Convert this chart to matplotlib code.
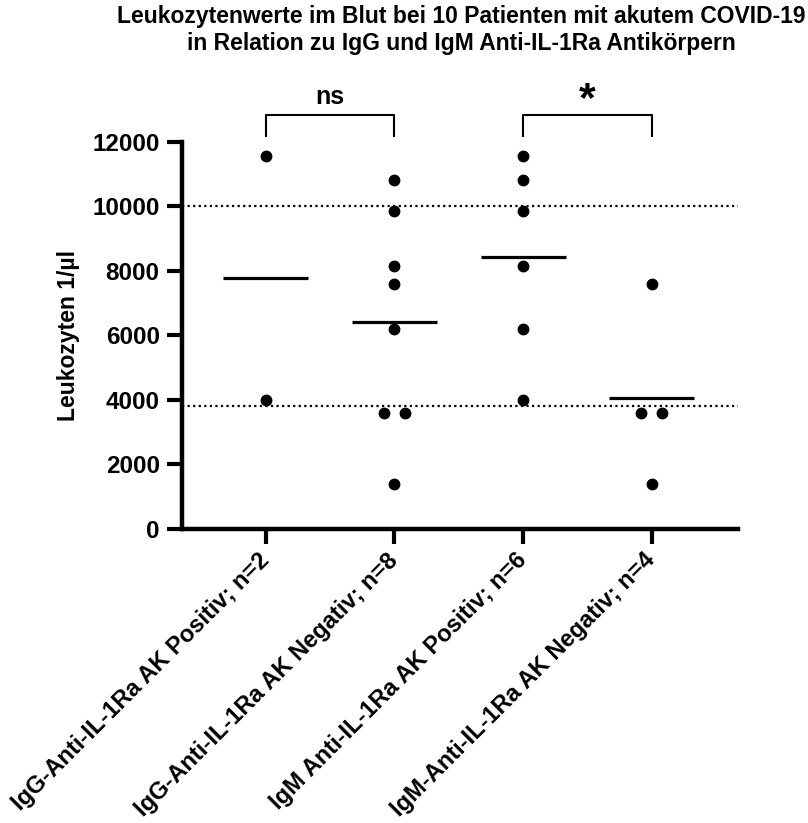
import numpy as np
import matplotlib
matplotlib.use("Agg")
import matplotlib.pyplot as plt

plt.rcParams['font.family'] = ['Liberation Sans', 'DejaVu Sans']
plt.rcParams['font.weight'] = 'bold'

# data (Leukozyten 1/ul per Patient)
groups = ["IgG-Anti-IL-1Ra AK Positiv; n=2",
          "IgG-Anti-IL-1Ra AK Negativ; n=8",
          "IgM Anti-IL-1Ra AK Positiv; n=6",
          "IgM-Anti-IL-1Ra AK Negativ; n=4"]
igg_pos = [11550, 4000]
igg_neg = [10800, 9850, 8150, 7600, 6200, 3600, 3600, 1400]
igm_pos = [11550, 10800, 9850, 8150, 6200, 4000]
igm_neg = [7600, 3600, 3600, 1400]
ref_lines = [10000, 3800]
comparisons = [(0, 1, "ns"), (2, 3, "*")]

series = [igg_pos, igg_neg, igm_pos, igm_neg]

fig = plt.figure(figsize=(8.08, 8.23), dpi=100)
ax = fig.add_axes([0.2252, 0.3572, 0.6881, 0.4706])

for i, vals in enumerate(series):
    vals = np.array(vals, dtype=float)
    xs = np.full(len(vals), float(i))
    # spread identical values side by side
    for v in np.unique(vals):
        idx = np.where(vals == v)[0]
        if len(idx) > 1:
            xs[idx] = i + (np.arange(len(idx)) - (len(idx) - 1) / 2) * 0.165
    ax.plot(xs, vals, 'o', color='black', ms=7.5, clip_on=False, zorder=3)
    m = vals.mean()
    ax.plot([i - 0.33, i + 0.33], [m, m], color='black', lw=2.3, solid_capstyle='butt', zorder=3)

for r in ref_lines:
    ax.axhline(r, color='black', lw=1.6, linestyle=(0, (1, 1.5)), zorder=1)

# significance brackets
for a, b, lab in comparisons:
    ax.plot([a, a, b, b], [12180, 12830, 12830, 12180], color='black', lw=1.5, clip_on=False)
    if lab == "*":
        ax.text((a + b) / 2, 12680, lab, ha='center', va='bottom', fontsize=31, fontweight='bold')
    else:
        ax.text((a + b) / 2, 13000, lab, ha='center', va='bottom', fontsize=18, fontweight='bold')

ax.set_xlim(-0.652, 3.67)
ax.set_ylim(0, 12000)
ax.set_yticks(np.arange(0, 12001, 2000))
ax.set_xticks(range(len(groups)))
ax.set_xticklabels(groups, rotation=45, ha='right', va='center', rotation_mode='anchor', fontsize=17)
for lbl in ax.get_yticklabels():
    lbl.set_fontsize(17.5)

for s in ['top', 'right']:
    ax.spines[s].set_visible(False)
for s in ['left', 'bottom']:
    ax.spines[s].set_linewidth(3.2)
ax.tick_params(axis='both', length=11, width=3.0)
ax.tick_params(axis='y', pad=5)
ax.tick_params(axis='x', pad=9)

ax.set_ylabel("Leukozyten 1/µl", fontsize=16.5, fontweight='bold', labelpad=9)

fig.text(0.571, 0.9635, "Leukozytenwerte im Blut bei 10 Patienten mit akutem COVID-19\nin Relation zu IgG und IgM Anti-IL-1Ra Antikörpern",
         ha='center', va='center', fontsize=16.5, fontweight='bold', linespacing=1.2)

plt.savefig('out.png', dpi=100)
